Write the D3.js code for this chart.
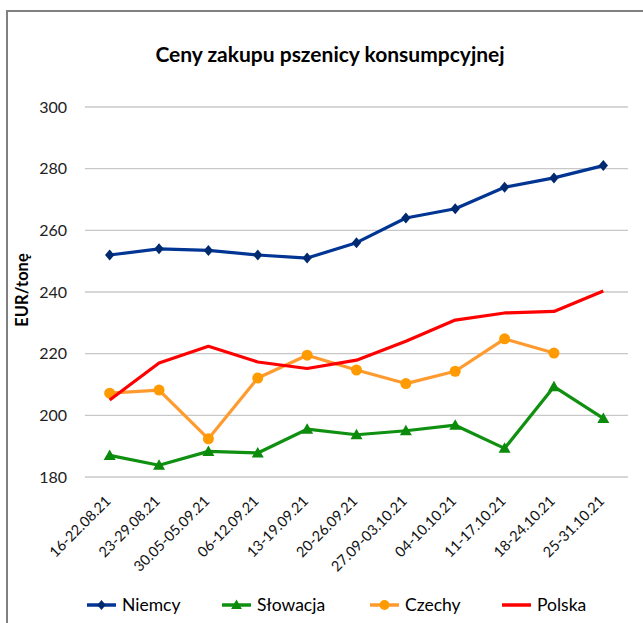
<!DOCTYPE html>
<html><head><meta charset="utf-8">
<script src="https://cdn.jsdelivr.net/npm/d3@7"></script>
<style>body{margin:0;background:#fff}svg{display:block;font-family:Lato,"Open Sans",sans-serif}</style>
</head><body>
<svg id="c" width="643" height="623"></svg>
<script>
const categories = ["16-22.08.21","23-29.08.21","30.05-05.09.21","06-12.09.21","13-19.09.21","20-26.09.21","27.09-03.10.21","04-10.10.21","11-17.10.21","18-24.10.21","25-31.10.21"];
const niemcy   = [252, 254, 253.5, 252, 251, 256, 264, 267, 274, 277, 281];
const slowacja = [187, 183.8, 188.3, 187.8, 195.5, 193.7, 195, 196.8, 189.3, 209.3, 199];
const czechy   = [207.2, 208.2, 192.4, 212.1, 219.5, 214.7, 210.3, 214.3, 224.8, 220.2, null];
const polska   = [205, 217, 222.4, 217.3, 215.2, 217.9, 224, 230.9, 233.2, 233.7, 240.3];
const yTicks = [180, 200, 220, 240, 260, 280, 300];
const seriesNames = ["Niemcy","Słowacja","Czechy","Polska"];
const title = "Ceny zakupu pszenicy konsumpcyjnej";
const yTitle = "EUR/tonę";

const series = [
  {name: seriesNames[0], values: niemcy, color: "#003594", marker: "diamond"},
  {name: seriesNames[1], values: slowacja, color: "#109010", marker: "triangle"},
  {name: seriesNames[2], values: czechy, color: "#FF9A2E", marker: "circle"},
  {name: seriesNames[3], values: polska, color: "#FF0000", marker: null}
];
const markerFill = {diamond: "#002a70", triangle: "#0c8a0c", circle: "#FF9A00"};

const svg = d3.select("#c");
// frame
svg.append("line").attr("x1",7).attr("x2",643).attr("y1",11).attr("y2",11).attr("stroke","#808080").attr("stroke-width",2);
svg.append("line").attr("x1",7).attr("x2",7).attr("y1",10).attr("y2",623).attr("stroke","#808080").attr("stroke-width",2);

const x = d3.scaleBand().domain(categories).range([85, 628]);
const y = d3.scaleLinear().domain([180, 300]).range([477, 107]);

svg.append("text").attr("x", 330).attr("y", 62).attr("text-anchor","middle")
  .attr("font-size", 21).attr("font-weight","bold").attr("fill","#000").text(title);

// grid
svg.append("g").selectAll("line").data(yTicks).join("line")
  .attr("x1", 85).attr("x2", 628).attr("y1", d=>y(d)).attr("y2", d=>y(d))
  .attr("stroke", "#c8c8c8").attr("stroke-width", 1.3);

const yAxis = svg.append("g").attr("transform","translate(85,0)")
  .call(d3.axisLeft(y).tickValues(yTicks).tickSize(0).tickPadding(18));
yAxis.select(".domain").remove();
yAxis.selectAll("text").attr("font-size", 16).attr("fill","#222").style("font-family","Lato,'Open Sans',sans-serif");

const xAxis = svg.append("g").attr("transform","translate(0,477)")
  .call(d3.axisBottom(x).tickSize(0));
xAxis.select(".domain").remove();
xAxis.selectAll("text").attr("font-size", 14.5).attr("fill","#111")
  .style("font-family","Lato,'Open Sans',sans-serif")
  .attr("text-anchor","end").attr("dy", null).attr("y", 0)
  .attr("transform", "translate(2,25) rotate(-45)");

svg.append("text").attr("transform","translate(28,290) rotate(-90)")
  .attr("text-anchor","middle").attr("font-size",16.5).attr("font-weight","bold").text(yTitle);

const cx = d => x(d) + x.bandwidth()/2;
const line = d3.line().defined(d => d.v != null).x(d => cx(d.c)).y(d => y(d.v));

function drawMarker(g, type, px, py, color, scale) {
  scale = scale || 1;
  if (type === "diamond") {
    const s = 5.5*scale;
    g.append("path").attr("d", `M${px},${py-s}L${px+s*0.85},${py}L${px},${py+s}L${px-s*0.85},${py}Z`).attr("fill", color);
  } else if (type === "triangle") {
    const s = 6*scale;
    g.append("path").attr("d", `M${px},${py-s}L${px+s},${py+s*0.75}L${px-s},${py+s*0.75}Z`).attr("fill", color);
  } else if (type === "circle") {
    g.append("circle").attr("cx", px).attr("cy", py).attr("r", 5.5*scale).attr("fill", color);
  }
}

const drawOrder = [0, 1, 2, 3];
drawOrder.forEach(i => {
  const s = series[i];
  const pts = categories.map((c, j) => ({c, v: s.values[j]}));
  const g = svg.append("g");
  g.append("path").datum(pts).attr("d", line).attr("fill","none")
    .attr("stroke", s.color).attr("stroke-width", 3.2).attr("stroke-linejoin","round");
  if (s.marker) pts.filter(p => p.v != null).forEach(p => drawMarker(g, s.marker, cx(p.c), y(p.v), markerFill[s.marker]));
});

// legend
const legX = [87, 222, 370, 502];
const legY = 605;
series.forEach((s, i) => {
  const g = svg.append("g");
  g.append("line").attr("x1", legX[i]).attr("x2", legX[i]+29).attr("y1", legY).attr("y2", legY)
    .attr("stroke", s.color).attr("stroke-width", 3.5);
  if (s.marker) drawMarker(g, s.marker, legX[i]+14.5, legY, markerFill[s.marker], 0.9);
  g.append("text").attr("x", legX[i]+35).attr("y", legY).attr("dy","0.35em")
    .attr("font-size", 17.5).attr("fill","#000").text(s.name);
});
</script>
</body></html>
